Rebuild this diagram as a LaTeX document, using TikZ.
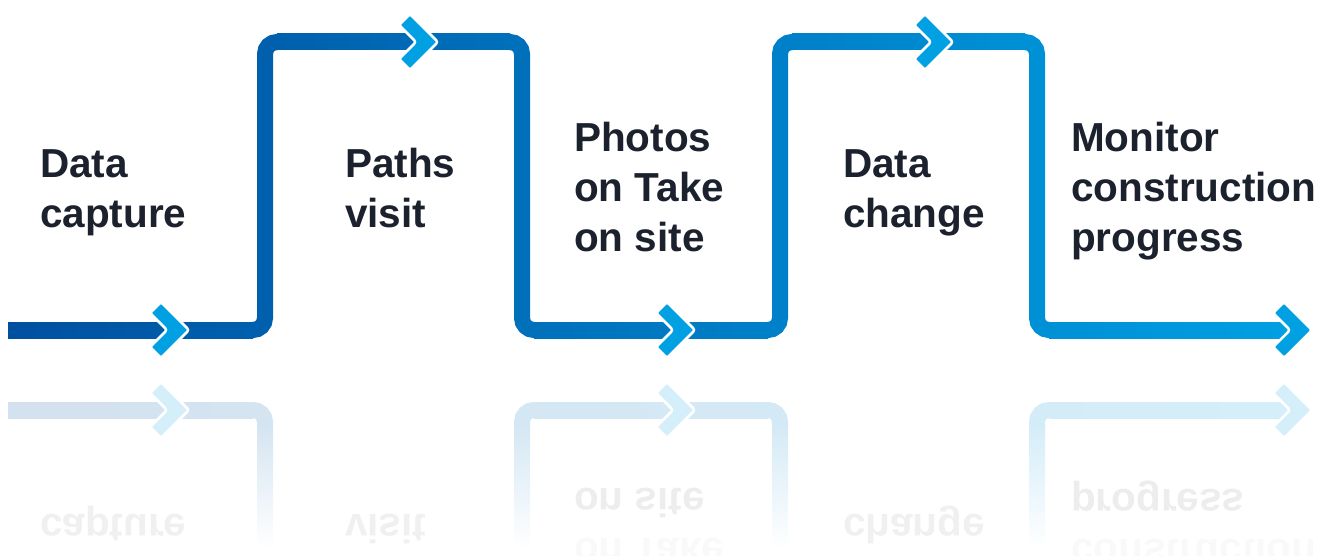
\documentclass[tikz,border=0pt]{standalone}
\usepackage{fontspec}
\setmainfont{Liberation Sans}
\definecolor{dark}{HTML}{0050A0}
\definecolor{light}{HTML}{00A0E3}
\definecolor{chevc}{HTML}{00A0E2}
\definecolor{txt}{HTML}{1B212D}
\colorlet{c0}{dark}
\colorlet{c20}{light!20!dark}
\colorlet{c40}{light!40!dark}
\colorlet{c60}{light!60!dark}
\colorlet{c80}{light!80!dark}
\colorlet{c100}{light}
\colorlet{r0}{c0!17!white}
\colorlet{r20}{c20!17!white}
\colorlet{r40}{c40!17!white}
\colorlet{r60}{c60!17!white}
\colorlet{r80}{c80!17!white}
\colorlet{r100}{c100!17!white}
\colorlet{rchev}{chevc!17!white}
\colorlet{rtxtA}{txt!8!white}
\colorlet{rtxtB}{txt!6.5!white}
\colorlet{rtxtC}{txt!2.5!white}
\tikzset{
  lbl/.style={font=\fontsize{40.5}{50}\selectfont\bfseries, text=txt, anchor=base west, inner sep=0pt},
  rlbl/.style={font=\fontsize{40.5}{50}\selectfont\bfseries, anchor=base west, inner sep=0pt, yscale=-1},
  seg/.style={line width=16, rounded corners=12},
  chev/.pic={\path[pic actions, rounded corners=2.5] (-22,0) -- (-39,-17) -- (-28,-28) -- (0,0) -- (-28,28) -- (-39,17) -- cycle;},
  chevmain/.style={fill=chevc, draw=white, line width=2.5},
  chevrefl/.style={fill=rchev, draw=white, line width=2.5}
}
\begin{document}
\begin{tikzpicture}[x=1pt,y=-1pt]
\useasboundingbox (0,0) rectangle (1327,556);
\clip (0,0) rectangle (1327,556);
% ---------- reflection ----------
\draw[seg, r20] (249,410) -- (265,410) -- (265,426);
\shade[top color=r20, bottom color=white] (257,424) rectangle (273,548);
\draw[seg, r40] (538,410) -- (522,410) -- (522,426);
\shade[top color=r40, bottom color=white] (514,424) rectangle (530,548);
\draw[seg, r60] (764,410) -- (780,410) -- (780,426);
\shade[top color=r60, bottom color=white] (772,424) rectangle (788,548);
\draw[seg, r80] (1053,410) -- (1037,410) -- (1037,426);
\shade[top color=r80, bottom color=white] (1029,424) rectangle (1045,548);
\shade[left color=r0, right color=r20] (8,402) rectangle (253,418);
\shade[left color=r40, right color=r60] (534,402) rectangle (768,418);
\shade[left color=r80, right color=r100] (1049,402) rectangle (1300,418);
\pic[chevrefl] at (189,410) {chev};
\pic[chevrefl] at (695,410) {chev};
\pic[chevrefl] at (1312,410) {chev};
\node[rlbl, text=rtxtB] (r1) at (40,514) {capture};
\node[rlbl, text=rtxtB] (r2) at (345,514) {visit};
\node[rlbl, text=rtxtA] (r3) at (574,488) {on site};
\node[rlbl, text=rtxtC] (r3b) at (574,538) {on Take};
\node[rlbl, text=rtxtB] (r4) at (843,514) {change};
\node[rlbl, text=rtxtA] (r5) at (1071,489) {progress};
\node[rlbl, text=rtxtC] (r5b) at (1071,539) {construction};
% ---------- main path ----------
\draw[seg, c20] (251,330) -- (265,330) -- (265,42) -- (279,42);
\draw[seg, c40] (508,42) -- (522,42) -- (522,330) -- (536,330);
\draw[seg, c60] (766,330) -- (780,330) -- (780,42) -- (794,42);
\draw[seg, c80] (1023,42) -- (1037,42) -- (1037,330) -- (1051,330);
\shade[left color=c0, right color=c20] (8,322) rectangle (253,338);
\shade[left color=c20, right color=c40] (277,34) rectangle (510,50);
\shade[left color=c40, right color=c60] (534,322) rectangle (768,338);
\shade[left color=c60, right color=c80] (792,34) rectangle (1025,50);
\shade[left color=c80, right color=c100] (1049,322) rectangle (1300,338);
\pic[chevmain] at (189,330) {chev};
\pic[chevmain] at (438,42) {chev};
\pic[chevmain] at (695,330) {chev};
\pic[chevmain] at (953,42) {chev};
\pic[chevmain] at (1312,330) {chev};
% ---------- labels ----------
\node[lbl] (t1) at (40,178) {\vtop{\hbox{Data}\hbox{capture}}};
\node[lbl] (t2) at (345,178) {\vtop{\hbox{Paths}\hbox{visit}}};
\node[lbl] (t3) at (574,152) {\vtop{\hbox{Photos}\hbox{on Take}\hbox{on site}}};
\node[lbl] (t4) at (843,178) {\vtop{\hbox{Data}\hbox{change}}};
\node[lbl] (t5) at (1071,152) {\vtop{\hbox{Monitor}\hbox{construction}\hbox{progress}}};
\end{tikzpicture}
\end{document}
